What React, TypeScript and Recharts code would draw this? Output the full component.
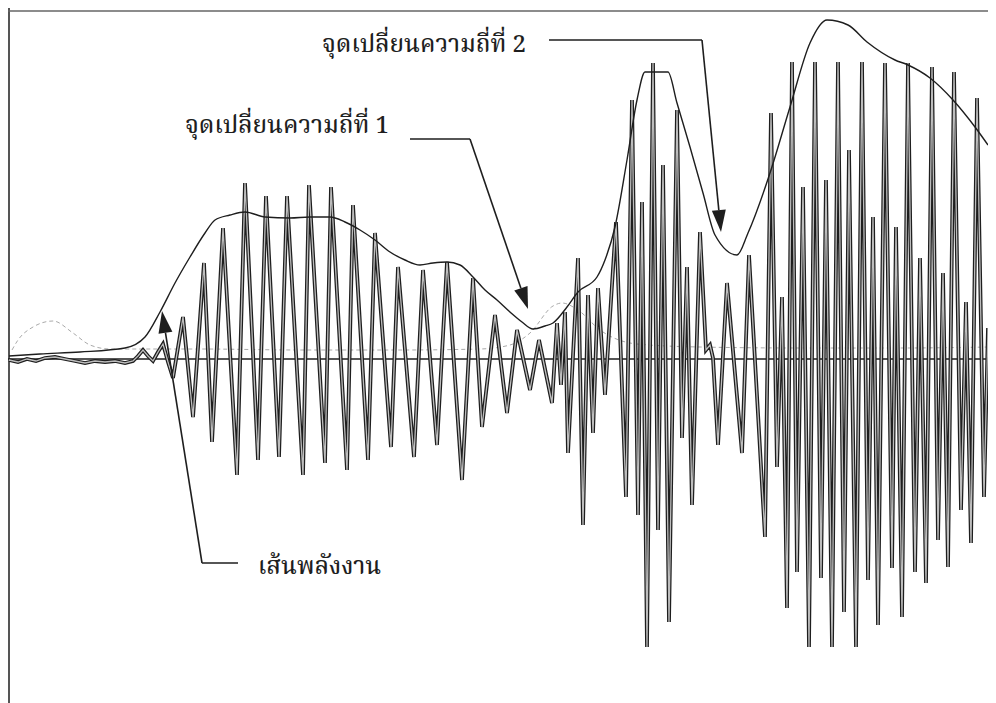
import React from 'react';
import { ComposedChart, Line, XAxis, YAxis, ReferenceLine, ReferenceDot } from 'recharts';

// Speech waveform: time index (sample position) and amplitude (peaks / troughs)
const waveT = [9, 18, 27, 36, 45, 55, 65, 75, 85, 95, 105, 115, 125, 133, 138, 143, 148, 153, 158, 163, 168, 173,
  183, 193, 204, 212, 223, 237, 245, 258, 266, 279, 287, 303, 309, 325, 331, 347, 353, 368, 375, 391, 398, 414,
  423, 437, 447, 462, 473, 482, 495, 507, 517, 530, 539, 552, 557, 561, 565, 568, 578, 583, 588, 593, 598, 605,
  616, 626, 632, 638, 642, 647, 653, 658, 663, 669, 677, 682, 687, 692, 700, 706, 710, 713, 718, 727, 742, 749,
  765, 771, 777, 782, 787, 792, 797, 803, 809, 815, 821, 826, 832, 838, 844, 849, 856, 862, 868, 873, 878, 885,
  892, 896, 902, 908, 915, 920, 926, 932, 938, 943, 948, 954, 961, 966, 971, 977, 984, 988, 994];
const waveA = [-1, -3, 0, -2, 1, 2, 0, -2, -4, -2, -3, -2, -4, -2, 3, 9, 3, -2, 7, 15, -3, -19,
  42, -58, 96, -83, 131, -116, 176, -101, 163, -98, 163, -116, 174, -104, 172, -111, 154, -101, 126, -88, 92, -98,
  89, -86, 97, -121, 81, -68, 44, -54, 29, -31, 19, -44, 36, -26, 47, -94, 101, -166, 64, -74, 71, -36,
  137, -138, 259, -156, 157, -288, 296, -171, 194, -263, 249, -79, 92, -146, 127, 9, 14, 1, -86, 76, -94, 104,
  -178, 246, -108, 62, -249, 297, -213, 172, -288, 297, -219, 179, -288, 297, -253, 209, -288, 297, -221, 142, -266, 296,
  -209, 132, -258, 296, -213, 101, -224, 292, -181, 86, -208, 287, -151, 57, -184, 261, -138, 31, -163];

// Energy envelope ("เส้นพลังงาน")
const energyT = [9, 40, 80, 125, 145, 160, 175, 190, 205, 215, 230, 245, 265, 290, 310, 330, 345, 360, 375, 390,
  405, 420, 433, 447, 460, 473, 485, 497, 510, 522, 533, 545, 553, 567, 578, 597, 605, 615, 627, 637, 645, 668,
  677, 690, 703, 715, 737, 748, 770, 790, 810, 827, 848, 867, 895, 908, 930, 953, 975, 988];
const energyA = [3, 5, 7, 11, 22, 47, 76, 102, 126, 139, 144, 147, 142, 141, 142, 142, 137, 129, 119, 107,
  99, 94, 96, 97, 94, 82, 69, 59, 47, 37, 30, 33, 36, 52, 67, 82, 99, 132, 199, 259, 287, 287,
  256, 212, 166, 124, 104, 126, 186, 252, 316, 339, 334, 317, 299, 294, 281, 259, 232, 214];

// Faint dashed curve
const faintT = [12, 18, 33, 53, 73, 90, 110, 200, 300, 400, 480, 510, 530, 553, 562, 578, 600, 637, 700, 800, 900, 990];
const faintA = [9, 19, 32, 38, 26, 14, 10, 10, 9, 9, 10, 14, 26, 53, 56, 49, 29, 15, 12, 11, 11, 12];

// Annotations
const note1Text = 'จุดเปลี่ยนความถี่ที่ 1';
const note1X = [410, 470, 528];
const note1Y = [220, 220, 50];
const note2Text = 'จุดเปลี่ยนความถี่ที่ 2';
const note2X = [549, 702, 721];
const note2Y = [319, 319, 127];
const note3Text = 'เส้นพลังงาน';
const note3X = [238, 202, 162];
const note3Y = [-204, -204, 48];
const labelX = [185, 322, 258];
const labelY = [233, 314, -208];

const zip = (ts: number[], as: number[]) => ts.map((t, i) => ({ t, a: as[i] }));
const waveData = zip(waveT, waveA);
const energyData = zip(energyT, energyA);
const faintData = zip(faintT, faintA);

const INK = '#1e1e1e';
const FONT = "'Noto Serif Thai', 'Noto Sans Thai', 'Noto Sans', 'DejaVu Serif', serif";

const segShape = (head: boolean) => (p: any) => {
  const { x1, y1, x2, y2 } = p;
  const ang = Math.atan2(y2 - y1, x2 - x1);
  const L = 22;
  const W = 7;
  const bx = x2 - L * Math.cos(ang);
  const by = y2 - L * Math.sin(ang);
  const px = -Math.sin(ang) * W;
  const py = Math.cos(ang) * W;
  return (
    <g>
      <line x1={x1} y1={y1} x2={head ? bx : x2} y2={head ? by : y2} stroke={INK} strokeWidth={1.6} />
      {head && (
        <polygon points={`${x2},${y2} ${bx + px},${by + py} ${bx - px},${by - py}`} fill={INK} />
      )}
    </g>
  );
};

const textShape = (label: string) => (p: any) => (
  <text x={p.cx} y={p.cy} dominantBaseline="central" fontFamily={FONT} fontSize={24} fontWeight={500} fill={INK}>
    {label}
  </text>
);

const pathSegments = (xs: number[], ys: number[], key: string) =>
  xs.slice(0, -1).map((x, i) => (
    <ReferenceLine
      key={`${key}-${i}`}
      segment={[{ x, y: ys[i] }, { x: xs[i + 1], y: ys[i + 1] }]}
      shape={segShape(i === xs.length - 2)}
      ifOverflow="visible"
    />
  ));

export default function App() {
  return (
    <div style={{ width: 988, height: 695, background: '#fff' }}>
      <ComposedChart width={988} height={695} margin={{ top: 0, right: 0, bottom: 0, left: 0 }}>
        <XAxis type="number" dataKey="t" domain={[8, 996]} hide allowDataOverflow />
        <YAxis type="number" domain={[-344, 351]} hide allowDataOverflow />
        <ReferenceLine x={9} stroke="#555" strokeWidth={2} ifOverflow="visible" />
        <ReferenceLine y={348} stroke="#666" strokeWidth={1.5} ifOverflow="visible" />
        <Line data={faintData} dataKey="a" type="monotone" stroke="#aaa" strokeWidth={1} strokeDasharray="4 3" dot={false} isAnimationActive={false} />
        <ReferenceLine y={0} stroke={INK} strokeWidth={1.6} ifOverflow="visible" />
        <Line data={waveData} dataKey="a" type="linear" stroke={INK} strokeWidth={3.8} dot={false} isAnimationActive={false} />
        <Line data={waveData} dataKey="a" type="linear" stroke="#bdbdbd" strokeWidth={1.3} dot={false} isAnimationActive={false} />
        <Line data={energyData} dataKey="a" type="monotone" stroke={INK} strokeWidth={1.4} dot={false} isAnimationActive={false} />
        {pathSegments(note1X, note1Y, 'n1')}
        {pathSegments(note2X, note2Y, 'n2')}
        {pathSegments(note3X, note3Y, 'n3')}
        <ReferenceDot x={labelX[0]} y={labelY[0]} r={0} shape={textShape(note1Text)} ifOverflow="visible" />
        <ReferenceDot x={labelX[1]} y={labelY[1]} r={0} shape={textShape(note2Text)} ifOverflow="visible" />
        <ReferenceDot x={labelX[2]} y={labelY[2]} r={0} shape={textShape(note3Text)} ifOverflow="visible" />
      </ComposedChart>
    </div>
  );
}
